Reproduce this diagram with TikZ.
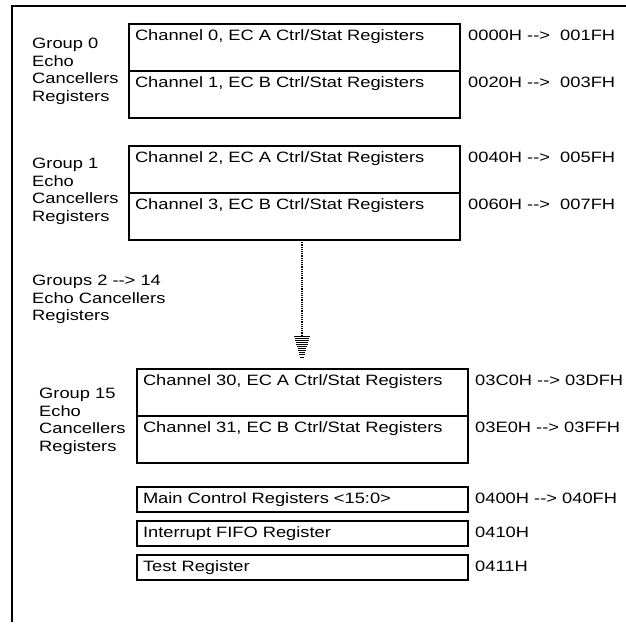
\documentclass[tikz,border=0pt]{standalone}
\usepackage{fontspec}
\newfontfamily\regfont{Liberation Sans}[FakeStretch=1.22,Ligatures=TeXOff]
\usetikzlibrary{positioning}

\begin{document}
\begin{tikzpicture}[x=1pt, y=-1pt,
  every node/.style={font=\regfont\fontsize{15}{17.5}\selectfont},
  chan/.style={draw, line width=2pt, outer sep=0pt, anchor=north west, text width=319pt, align=left, inner xsep=6pt, inner ysep=0pt, text height=16pt, text depth=31pt},
  reg/.style={draw, line width=2pt, outer sep=0pt, anchor=north west, text width=319pt, align=left, inner xsep=6pt, inner ysep=0pt, text height=16pt, text depth=9pt},
  grp/.style={anchor=north west, align=left, inner sep=0pt},
  addr/.style={anchor=base west, inner sep=0pt},
  dots/.style={line width=1.5pt, dash pattern=on 1.2pt off 1pt}
]
\useasboundingbox (0,0) rectangle (626,625);
\draw[line width=2pt] (626,6) -- (12,6) -- (12,622);

% group 0 and group 1
\node[chan] (ch0) at (129,24) {Channel 0, EC A Ctrl/Stat Registers};
\node[chan, below=0pt of ch0] (ch1) {Channel 1, EC B Ctrl/Stat Registers};
\node[chan, below=28pt of ch1] (ch2) {Channel 2, EC A Ctrl/Stat Registers};
\node[chan, below=0pt of ch2] (ch3) {Channel 3, EC B Ctrl/Stat Registers};

\node[grp] (grp0) at (32,38) {Group 0\\Echo\\Cancellers\\Registers};
\node[grp] (grp1) at (32,158) {Group 1\\Echo\\Cancellers\\Registers};
\node[grp] (grpmid) at (32,275) {Groups 2 --> 14\\Echo Cancellers\\Registers};

\node[addr] (a0) at ([xshift=8pt,yshift=-16pt]ch0.north east) {0000H -->\ \ 001FH};
\node[addr] (a1) at ([xshift=8pt,yshift=-16pt]ch1.north east) {0020H -->\ \ 003FH};
\node[addr] (a2) at ([xshift=8pt,yshift=-16pt]ch2.north east) {0040H -->\ \ 005FH};
\node[addr] (a3) at ([xshift=8pt,yshift=-16pt]ch3.north east) {0060H -->\ \ 007FH};

% group 15
\node[chan] (ch30) at (137,369) {Channel 30, EC A Ctrl/Stat Registers};
\node[chan, below=0pt of ch30] (ch31) {Channel 31, EC B Ctrl/Stat Registers};
\node[grp] (grp15) at (39,388) {Group 15\\Echo\\Cancellers\\Registers};
\node[addr] (a30) at ([xshift=7pt,yshift=-16pt]ch30.north east) {03C0H --> 03DFH};
\node[addr] (a31) at ([xshift=7pt,yshift=-16pt]ch31.north east) {03E0H --> 03FFH};

% main registers
\node[reg] (main) at (137,487) {Main Control Registers <15:0>};
\node[reg, below=9pt of main] (fifo) {Interrupt FIFO Register};
\node[reg, below=9pt of fifo] (test) {Test Register};
\node[addr] (amain) at ([xshift=7pt,yshift=-16pt]main.north east) {0400H --> 040FH};
\node[addr] (afifo) at ([xshift=7pt,yshift=-16pt]fifo.north east) {0410H};
\node[addr] (atest) at ([xshift=7pt,yshift=-16pt]test.north east) {0411H};

% dotted arrow
\coordinate (tip) at (302,336);
\draw[dots] (ch3.south -| tip) -- (tip);
\foreach \k in {0,...,10}
  \draw[line width=0.9pt] (tip) ++({-8+0.6*\k},{2.1*\k}) -- ++({16-1.2*\k},0);
\end{tikzpicture}
\end{document}
